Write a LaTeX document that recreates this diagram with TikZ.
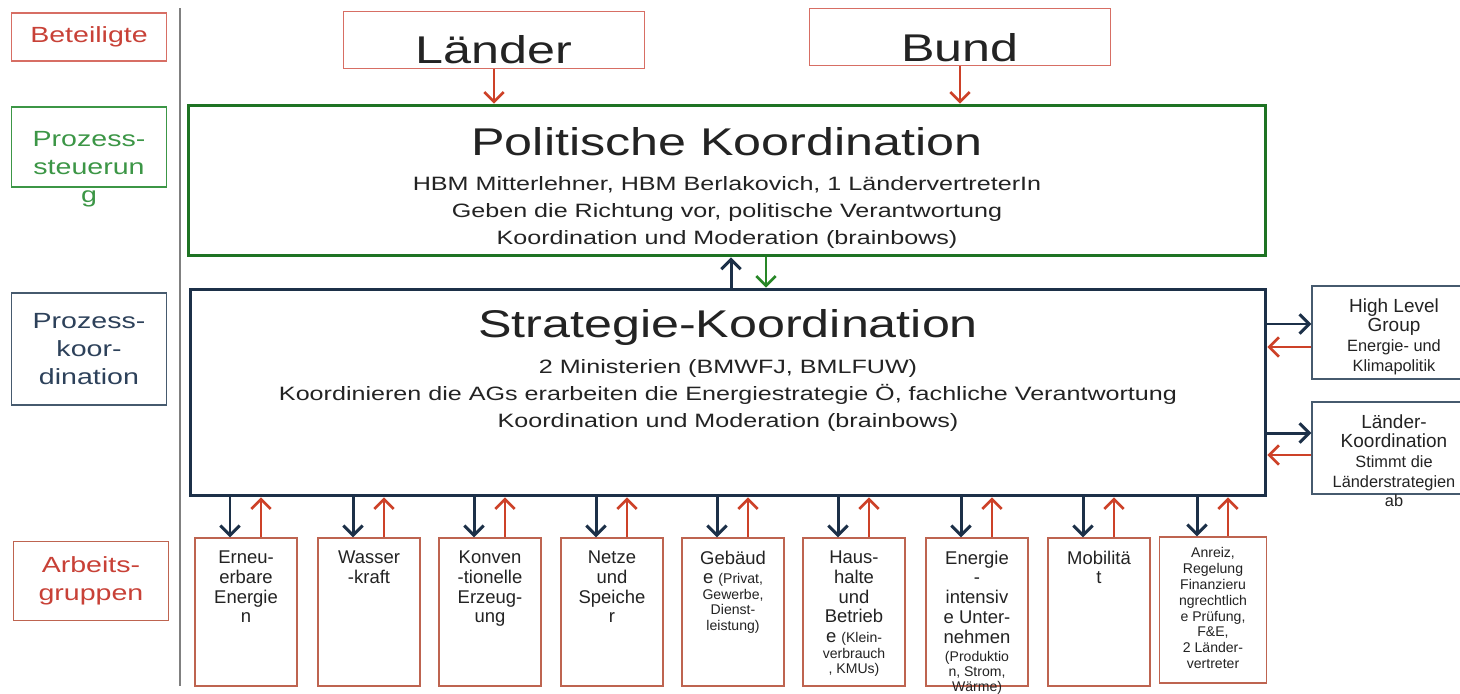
\documentclass[tikz,border=0pt]{standalone}
\usepackage{fontspec}
\setmainfont{Liberation Sans}
\newfontfamily\widesf[FakeStretch=1.3]{Liberation Sans}
\usetikzlibrary{arrows.meta}

\definecolor{navy}{RGB}{28,48,72}
\definecolor{polgreen}{RGB}{30,115,35}
\definecolor{arrgreen}{RGB}{40,135,40}
\definecolor{arrred}{RGB}{205,65,40}
\definecolor{partyred}{RGB}{215,110,100}
\definecolor{wgred}{RGB}{190,100,80}
\definecolor{slate}{RGB}{70,90,110}
\definecolor{lblred}{RGB}{200,65,55}
\definecolor{lblgreen}{RGB}{60,150,70}
\definecolor{lblblue}{RGB}{45,65,90}
\definecolor{ink}{RGB}{35,35,35}

\newcommand{\smalltxt}{\fontsize{8}{9}\selectfont}
\newcommand{\sidesmall}{\fontsize{9.3}{11}\selectfont}

\begin{document}
\begin{tikzpicture}[x=0.02cm, y=-0.02cm,
    lbl/.style={line width=0.7pt, minimum width=3.1cm, inner sep=0pt, align=center,
        font=\widesf\fontsize{12.5}{15.9}\selectfont},
    party/.style={draw=partyred, line width=0.8pt, minimum width=6.02cm, minimum height=1.14cm},
    bigtext/.style={inner sep=0pt, anchor=base, text=ink, font=\widesf\fontsize{22}{26}\selectfont},
    subtext/.style={inner sep=0pt, anchor=north, align=center, text=ink,
        font=\widesf\fontsize{11}{15.4}\selectfont},
    wg/.style={draw=wgred, line width=0.8pt, minimum width=2.04cm, minimum height=2.96cm},
    wgtext/.style={inner sep=0pt, anchor=north, align=center, text=ink,
        font=\fontsize{10.5}{11.3}\selectfont},
    side/.style={draw=slate, line width=0.8pt, minimum width=3.12cm},
    sidetext/.style={inner sep=0pt, anchor=north, align=center, text=ink,
        font=\fontsize{10.8}{11.2}\selectfont},
    bluearr/.style={draw=navy, line width=1.7pt, -{Straight Barb[length=5.5pt,width=11pt]}},
    redarr/.style={draw=arrred, line width=1.5pt, -{Straight Barb[length=5.5pt,width=11pt]}},
    greenarr/.style={draw=arrgreen, line width=1.5pt, -{Straight Barb[length=5.5pt,width=11pt]}},
  ]
    \useasboundingbox (0,0) rectangle (1460,693);
    \fill[white] (0,0) rectangle (1460,693);

    % row labels
    \node[lbl, draw=partyred, text=lblred, minimum height=0.96cm] (beteil) at (89,37) {Beteiligte};
    \node[lbl, draw=lblgreen, minimum height=1.6cm] (steuer) at (89,147) {};
    \node[lbl, text=lblgreen, anchor=north] (steuertext) at (89,131) {Prozess-\\steuerun\\g};
    \node[lbl, draw=slate, text=lblblue, minimum height=2.24cm] (koord) at (89,349) {Prozess-\\koor-\\dination};
    \node[lbl, draw=wgred, text=lblred, minimum height=1.58cm] (arbeit) at (91,581) {Arbeits-\\gruppen};
    \draw[gray, line width=0.7pt] (180,8) -- (180,686);

    \node[party] (laender) at (494,40) {};
    \node[bigtext] (laendertext) at (494,63) {Länder};
    \node[party] (bund) at (960,37) {};
    \node[bigtext] (bundtext) at (960,61) {Bund};

    \node[draw=polgreen, line width=1.7pt, minimum width=21.56cm, minimum height=3.02cm] (pol) at (727,180.5) {};
    \node[bigtext] (poltitle) at (727,155) {Politische Koordination};
    \node[subtext] (poltext) at (727,176) {HBM Mitterlehner, HBM Berlakovich, 1 LändervertreterIn\\Geben die Richtung vor, politische Verantwortung\\Koordination und Moderation (brainbows)};

    \node[draw=navy, line width=1.7pt, minimum width=21.52cm, minimum height=4.14cm] (strat) at (728,392.5) {};
    \node[bigtext] (strattitle) at (728,337) {Strategie-Koordination};
    \node[subtext] (strattext) at (728,359) {2 Ministerien (BMWFJ, BMLFUW)\\Koordinieren die AGs erarbeiten die Energiestrategie Ö, fachliche Verantwortung\\Koordination und Moderation (brainbows)};

    \draw[redarr] (laender) -- (laender |- pol.north);
    \draw[redarr] (bund) -- (bund |- pol.north);
    \draw[bluearr] ([xshift=0.08cm]pol.south |- strat.north) -- ([xshift=0.08cm]pol.south);
    \draw[greenarr] ([xshift=0.78cm]pol.south) -- ([xshift=0.78cm]pol.south |- strat.north);

    % right side
    \node[side, minimum height=1.86cm] (hlg) at (1390,332.5) {};
    \node[sidetext] (hlgtext) at (1394,298) {High Level\\Group\\{\sidesmall Energie- und}\\{\sidesmall Klimapolitik}};
    \node[side, minimum height=1.84cm] (lk) at (1390,448) {};
    \node[sidetext] (lktext) at (1394,414) {Länder-\\Koordination\\{\sidesmall Stimmt die}\\{\sidesmall Länderstrategien}\\{\sidesmall ab}};
    \draw[bluearr] ([yshift=0.17cm]hlg.west -| strat.east) -- ([yshift=0.17cm]hlg.west);
    \draw[redarr] ([yshift=-0.29cm]hlg.west) -- ([yshift=-0.29cm]hlg.west -| strat.east);
    \draw[bluearr] ([yshift=0.3cm]lk.west -| strat.east) -- ([yshift=0.3cm]lk.west);
    \draw[redarr] ([yshift=-0.14cm]lk.west) -- ([yshift=-0.14cm]lk.west -| strat.east);

    % working groups
    \foreach \i/\x in {1/246, 2/369, 3/490, 4/612, 5/733, 6/854, 7/977, 8/1099}
        \node[wg] (wg\i) at (\x,612) {};
    \node[wg, minimum width=2.14cm, minimum height=2.92cm] (wg9) at (1213,610) {};
    \foreach \i in {1,...,9}
    {
        \draw[bluearr] ([xshift=-0.32cm]wg\i.north |- strat.south) -- ([xshift=-0.32cm]wg\i.north);
        \draw[redarr] ([xshift=0.3cm]wg\i.north) -- ([xshift=0.3cm]wg\i.north |- strat.south);
    }

    \node[wgtext] (wg1text) at ([yshift=-0.26cm]wg1.north) {Erneu-\\erbare\\Energie\\n};
    \node[wgtext] (wg2text) at ([yshift=-0.26cm]wg2.north) {Wasser\\-kraft};
    \node[wgtext] (wg3text) at ([yshift=-0.26cm]wg3.north) {Konven\\-tionelle\\Erzeug-\\ung};
    \node[wgtext] (wg4text) at ([yshift=-0.26cm]wg4.north) {Netze\\und\\Speiche\\r};
    \node[wgtext] (wg5text) at ([yshift=-0.26cm]wg5.north) {Gebäud\\e {\smalltxt (Privat,}\\[-2.5pt]{\smalltxt Gewerbe,}\\[-2.5pt]{\smalltxt Dienst-}\\[-2.5pt]{\smalltxt leistung)}};
    \node[wgtext] (wg6text) at ([yshift=-0.26cm]wg6.north) {Haus-\\halte\\und\\Betrieb\\e {\smalltxt (Klein-}\\[-2.5pt]{\smalltxt verbrauch}\\[-2.5pt]{\smalltxt , KMUs)}};
    \node[wgtext] (wg7text) at ([yshift=-0.26cm]wg7.north) {Energie\\-\\intensiv\\e Unter-\\nehmen\\[-1pt]{\smalltxt (Produktio}\\[-2.8pt]{\smalltxt n, Strom,}\\[-2.8pt]{\smalltxt Wärme)}};
    \node[wgtext] (wg8text) at ([yshift=-0.26cm]wg8.north) {Mobilitä\\t};
    \node[wgtext, font=\smalltxt] (wg9text) at ([yshift=-0.22cm]wg9.north) {Anreiz,\\Regelung\\Finanzieru\\ngrechtlich\\e Prüfung,\\F\&E,\\2 Länder-\\vertreter};

\end{tikzpicture}
\end{document}
